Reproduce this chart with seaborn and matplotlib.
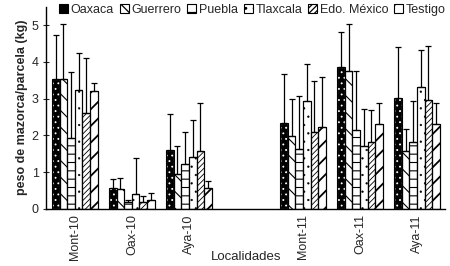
import pandas as pd
import seaborn as sns
import matplotlib
matplotlib.use('Agg')
import matplotlib.pyplot as plt
from matplotlib.patches import Patch

localidades = ['Mont-10', 'Oax-10', 'Aya-10', ' ', 'Mont-11', 'Oax-11', 'Aya-11']
sitios = ['Mont-10', 'Oax-10', 'Aya-10', 'Mont-11', 'Oax-11', 'Aya-11']
origenes = ['Oaxaca', 'Guerrero', 'Puebla', 'Tlaxcala', 'Edo. México', 'Testigo']

# media por origen (kg), en el orden de sitios
oaxaca = [3.53, 0.57, 1.60, 2.33, 3.85, 3.02]
guerrero = [3.53, 0.54, 0.94, 1.97, 3.76, 1.56]
puebla = [1.93, 0.19, 1.22, 1.64, 2.15, 1.81]
tlaxcala = [3.23, 0.39, 1.42, 2.94, 1.72, 3.32]
edomex = [2.60, 0.19, 1.56, 2.10, 1.82, 2.97]
testigo = [3.21, 0.24, 0.57, 2.22, 2.32, 2.31]

# extremo superior de la barra de error (kg)
oaxaca_sup = [4.74, 0.82, 2.57, 3.68, 4.81, 4.41]
guerrero_sup = [5.02, 0.85, 1.71, 3.00, 5.03, 2.18]
puebla_sup = [3.71, 0.24, 2.08, 3.06, 3.76, 2.94]
tlaxcala_sup = [4.23, 1.37, 2.42, 3.94, 2.72, 4.32]
edomex_sup = [4.10, 0.36, 2.88, 3.47, 2.70, 4.42]
testigo_sup = [3.42, 0.42, 0.75, 3.58, 2.88, 2.88]

medias = [oaxaca, guerrero, puebla, tlaxcala, edomex, testigo]
superiores = [oaxaca_sup, guerrero_sup, puebla_sup, tlaxcala_sup, edomex_sup, testigo_sup]

rows = []
for org, vals in zip(origenes, medias):
    for s, v in zip(sitios, vals):
        rows.append({'Localidad': s, 'Origen': org, 'peso': v})
df = pd.DataFrame(rows)

err = {}
for org, vals, sups in zip(origenes, medias, superiores):
    for s, v, u in zip(sitios, vals, sups):
        err[(org, s)] = u - v

sns.set_style('ticks')
plt.rcParams['font.family'] = ['Liberation Sans', 'DejaVu Sans']
plt.rcParams['hatch.linewidth'] = 0.9

estilos = {
    'Oaxaca': dict(fc='black', ec='white', hatch='...', hlw=0.6),
    'Guerrero': dict(fc='white', ec='black', hatch='\\\\', hlw=0.8),
    'Puebla': dict(fc='white', ec='black', hatch='--', hlw=0.8),
    'Tlaxcala': dict(fc='white', ec='black', hatch='..', hlw=0.4),
    'Edo. México': dict(fc='white', ec='black', hatch='//////', hlw=0.6),
    'Testigo': dict(fc='white', ec='black', hatch='//', hlw=1.3),
}

fig, ax = plt.subplots(figsize=(4.5, 2.66), dpi=100)
sns.barplot(data=df, x='Localidad', y='peso', hue='Origen', order=localidades,
            hue_order=origenes, width=0.8, ax=ax, legend=False, errorbar=None)

for org, cont in zip(origenes, ax.containers):
    st = estilos[org]
    for bar in cont.patches:
        xc = bar.get_x() + bar.get_width() / 2
        h = bar.get_height()
        bar.set_facecolor(st['fc'])
        bar.set_edgecolor(st['ec'])
        bar.set_hatch(st['hatch'])
        if hasattr(bar, 'set_hatch_linewidth'):
            bar.set_hatch_linewidth(st['hlw'])
        bar.set_linewidth(0.8)
        # contorno negro encima
        ax.add_patch(plt.Rectangle((bar.get_x(), 0), bar.get_width(), h,
                                   fill=False, ec='black', lw=0.8, zorder=bar.get_zorder() + 0.1))
        idx = int(round(xc))
        s = localidades[idx]
        e = err[(org, s)]
        ax.errorbar(xc, h, yerr=[[0], [e]], fmt='none', ecolor='black',
                    elinewidth=0.9, capsize=2.5, capthick=0.9, zorder=1)

ax.set_ylim(0, 5.5)
ax.set_yticks([0, 1, 2, 3, 4, 5])
ax.set_xlim(-0.5, 6.5)
ax.tick_params(axis='x', length=0, labelrotation=90, labelsize=9, pad=4)
ax.tick_params(axis='y', labelsize=9, length=4, width=0.8, direction='inout')
ax.set_xlabel('Localidades', fontsize=9.5)
ax.xaxis.set_label_coords(0.5, -0.21)
ax.set_ylabel('peso de mazorca/parcela (kg)', fontsize=9, fontweight='bold', labelpad=3)
sns.despine(ax=ax)
for sp in ['left', 'bottom']:
    ax.spines[sp].set_linewidth(1.0)
    ax.spines[sp].set_color('black')

handles = []
for o in origenes:
    st = estilos[o]
    if o == 'Oaxaca':
        handles.append(Patch(facecolor='black', edgecolor='black', lw=0.8))
    else:
        handles.append(Patch(facecolor='white', edgecolor='black', hatch=st['hatch'], lw=0.8))
ax.legend(handles, origenes, ncol=6, loc='upper left', bbox_to_anchor=(0.02, 1.04),
          frameon=False, fontsize=9, handlelength=0.7, handleheight=0.7,
          handletextpad=0.2, columnspacing=0.5, borderaxespad=0)

fig.subplots_adjust(left=0.103, right=0.99, top=0.975, bottom=0.215)
fig.savefig('out.png', dpi=100)
